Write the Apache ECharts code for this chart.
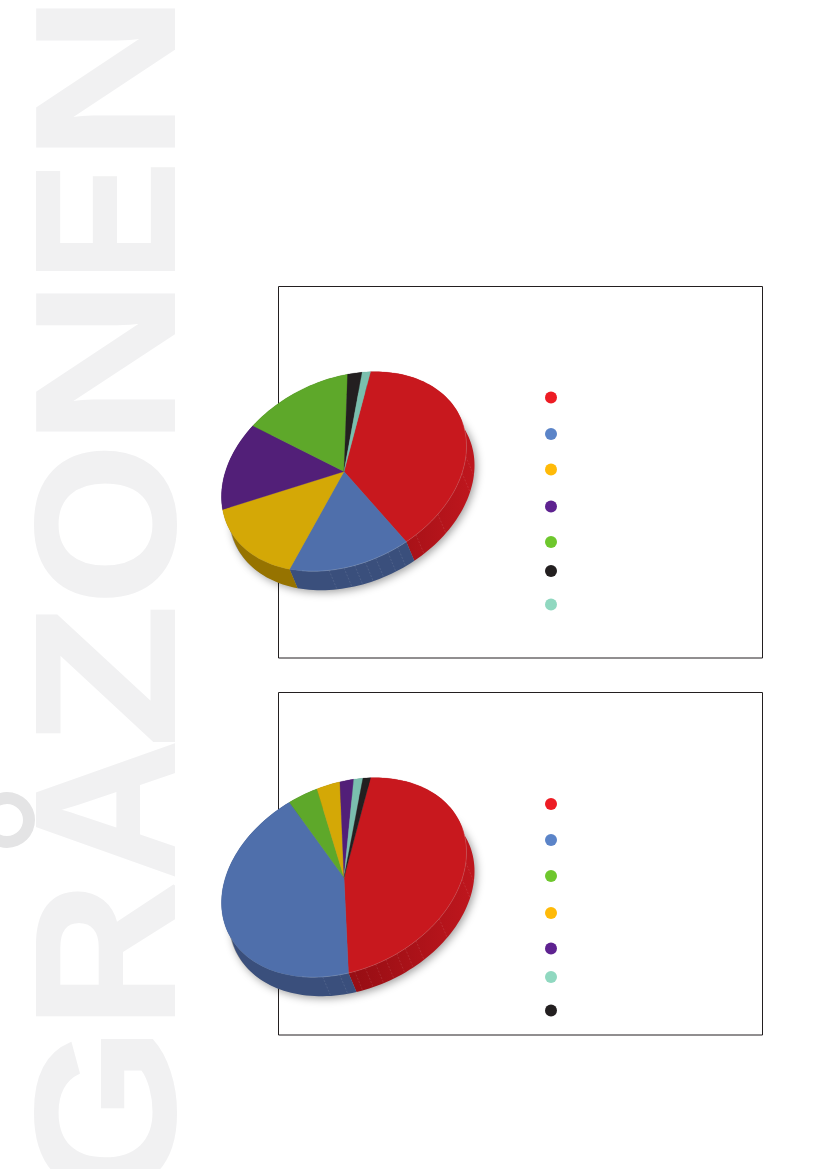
<!DOCTYPE html>
<html><head><meta charset="utf-8">
<style>html,body{margin:0;padding:0;background:#fff}#c{width:827px;height:1169px}</style>
<script src="https://cdn.jsdelivr.net/npm/echarts@6/dist/echarts.min.js"></script>
</head><body><div id="c"></div>
<script>
// Shares (percent); slice names are not legible in the reference
var topValues = [38.0, 15.8, 15.5, 13.8, 13.8, 1.9, 1.1];
var topColors = ['#c8181e', '#4f6fab', '#d4a806', '#521f78', '#5ea82a', '#231f20', '#7abfae'];
var bottomValues = [45.9, 43.2, 3.8, 3.0, 1.8, 1.2, 1.0];
var bottomColors = ['#c8181e', '#4f6fab', '#5ea82a', '#d4a806', '#521f78', '#7abfae', '#231f20'];
var topDots = ['#ed1c24', '#5b84c8', '#ffba08', '#5e2290', '#6ec72d', '#231f20', '#90d8c0'];
var topDotY = [397.5, 434, 469.5, 506.5, 542, 571, 604.5];
var bottomDots = ['#ed1c24', '#5b84c8', '#6ec72d', '#ffba08', '#5e2290', '#90d8c0', '#231f20'];
var bottomDotY = [804, 840, 876, 913, 948.5, 977, 1010.5];
var topSeams = [6, 15.5, 40, 54, 64, 69, 75, 80, 85, 90, 97];
var bottomSeams = [6, 15.5, 39, 54, 60, 64.5, 70, 75, 80, 85, 92, 100];
var sideColor = {'#4f6fab': '#3a4f7c', '#d4a806': '#967300', '#521f78': '#3a1556', '#5ea82a': '#43781e', '#231f20': '#111', '#7abfae': '#5a8f82'};
var START_DEG = -77.5, RX = 122.5, SKEW = -25.2, RY = 96.5, DX = 8, DY = 19;
var letters = [
  {c:'N', y:145, w:134, lsb:.073, ink:.576},{c:'E', y:269, w:99, lsb:.073, ink:.545},
  {c:'N', y:429, w:133, lsb:.073, ink:.576},{c:'O', y:597, w:146, lsb:.04, ink:.70},
  {c:'Z', y:743, w:134, lsb:.02, ink:.57},{c:'A', y:880, w:140, lsb:0, ink:.72},
  {c:'R', y:1014, w:131, lsb:.073, ink:.64},{c:'G', y:1190, w:152, lsb:.045, ink:.68}
];
var FS = 199;

function pt(cx, cy, deg, ox, oy) {
  var t = deg * Math.PI / 180, c = Math.cos(t), s = Math.sin(t);
  return [cx + RX * c + (ox || 0), cy + SKEW * c + RY * s + (oy || 0)];
}
function arc(cx, cy, a, b, ox, oy) {
  var out = [], n = Math.max(2, Math.ceil(Math.abs(b - a) / 2));
  for (var i = 0; i <= n; i++) out.push(pt(cx, cy, a + (b - a) * i / n, ox, oy));
  return out;
}
function ranges(vals) {
  var sum = vals.reduce(function (p, v) { return p + v; }, 0), a = START_DEG, res = [];
  vals.forEach(function (v) { var d = v / sum * 360; res.push([a, a + d]); a += d; });
  return res;
}
function dataOf(vals) { return vals.map(function (v) { return [v]; }); }

function pieSeries(vals, colors, seams, cx, cy) {
  var rg = ranges(vals);
  var list = [];
  // soft shadow below the body
  list.push({
    type: 'custom', coordinateSystem: 'none', silent: true, z: 2, data: [[1]],
    renderItem: function () {
      return {type: 'polygon', shape: {points: arc(cx, cy, 0, 360, DX - 1, DY - 1)},
        style: {fill: '#999', shadowBlur: 9, shadowColor: 'rgba(0,0,0,.38)', shadowOffsetX: 3, shadowOffsetY: 3}};
    }
  });
  // side wall
  list.push({
    type: 'custom', coordinateSystem: 'none', silent: true, z: 3, data: dataOf(vals),
    renderItem: function (p) {
      var r = rg[p.dataIndex], col = colors[p.dataIndex], kids = [];
      var isRed = col === '#c8181e';
      var pts = arc(cx, cy, r[0], r[1]).concat(arc(cx, cy, r[1], r[0], DX, DY));
      var fill = isRed ? new echarts.graphic.LinearGradient(cx + 13, 0, cx + 125, 0, [
        {offset: 0, color: '#980e14'}, {offset: 1, color: '#bd161d'}], true) : sideColor[col];
      kids.push({type: 'polygon', shape: {points: pts}, style: {fill: fill}});
      seams.forEach(function (s) {
        var d = s; if (d < r[0]) d += 360;
        if (d > r[0] && d < r[1]) {
          kids.push({type: 'line', shape: (function () {
            var a = pt(cx, cy, d), b = pt(cx, cy, d, DX, DY);
            return {x1: a[0], y1: a[1], x2: b[0], y2: b[1]};
          })(), style: {stroke: 'rgba(255,255,255,.14)', lineWidth: .7, lineDash: [2, 1.5]}});
        }
      });
      return {type: 'group', children: kids};
    }
  });
  // top face
  list.push({
    type: 'custom', coordinateSystem: 'none', silent: true, z: 4, data: dataOf(vals),
    renderItem: function (p) {
      var r = rg[p.dataIndex];
      var pts = [[cx, cy]].concat(arc(cx, cy, r[0], r[1]));
      return {type: 'polygon', shape: {points: pts},
        style: {fill: colors[p.dataIndex], stroke: colors[p.dataIndex], lineWidth: .3}};
    }
  });
  // thin highlight on the rim
  list.push({
    type: 'custom', coordinateSystem: 'none', silent: true, z: 5, data: [[1]],
    renderItem: function () {
      return {type: 'polyline', shape: {points: arc(cx, cy, -15, 110)},
        style: {fill: 'none', stroke: 'rgba(255,255,255,.28)', lineWidth: .5}};
    }
  });
  return list;
}

var graphics = [];
letters.forEach(function (l) {
  var sx = l.w / (l.ink * FS);
  graphics.push({type: 'text', z: 0, x: 19.5, y: l.y + l.lsb * FS * sx, rotation: Math.PI / 2, scaleX: sx,
    style: {text: l.c, fontFamily: '"Liberation Sans"', fontWeight: 'bold', fontSize: FS, fill: '#f1f1f2',
      stroke: '#f1f1f2', lineWidth: 2, textAlign: 'left', textVerticalAlign: 'top'}, silent: true});
});
graphics.push({type: 'ring', z: 0, shape: {cx: 7, cy: 820, r: 28, r0: 16}, style: {fill: '#e4e4e5'}, silent: true});
[[278.5, 286.5, 484, 371.5], [278.5, 692.5, 484, 342.5]].forEach(function (f) {
  graphics.push({type: 'rect', z: 1, shape: {x: f[0], y: f[1], width: f[2], height: f[3]},
    style: {fill: 'none', stroke: '#231f20', lineWidth: 1}, silent: true});
});
function dots(cols, ys) {
  cols.forEach(function (c, i) {
    graphics.push({type: 'circle', z: 6, shape: {cx: 551, cy: ys[i], r: 6}, style: {fill: c}, silent: true});
  });
}
dots(topDots, topDotY); dots(bottomDots, bottomDotY);

var chart = echarts.init(document.getElementById('c'), null, {renderer: 'canvas'});
chart.setOption({
  backgroundColor: '#ffffff', animation: false,
  graphic: {elements: graphics},
  series: pieSeries(topValues, topColors, topSeams, 344, 471.5)
    .concat(pieSeries(bottomValues, bottomColors, bottomSeams, 344, 877.5))
});
</script></body></html>
